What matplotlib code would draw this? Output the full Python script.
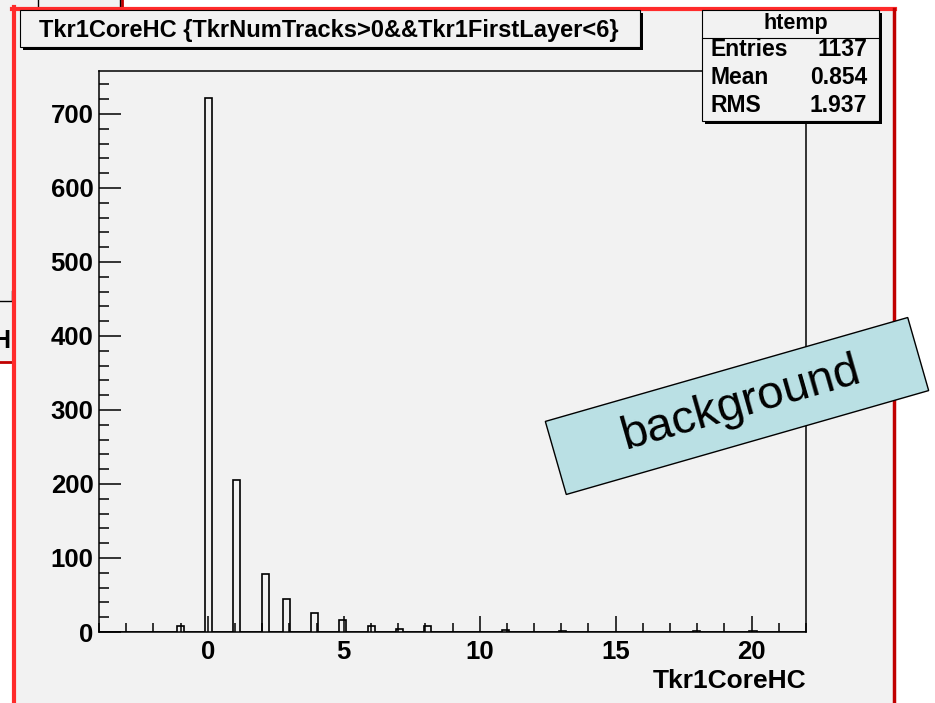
import numpy as np
import matplotlib
matplotlib.use('Agg')
import matplotlib.pyplot as plt
from matplotlib.patches import Rectangle
from matplotlib.ticker import MultipleLocator

plt.rcParams['font.family'] = ['Liberation Sans', 'DejaVu Sans']
plt.rcParams['font.weight'] = 'bold'

# htemp: Tkr1CoreHC values and their entries
core_hc = [-1, 0, 1, 2, 3, 4, 5, 6, 7, 8, 11, 13, 18, 20]
counts = [8, 722, 206, 79, 45, 25, 16, 8, 4, 8, 3, 1, 1, 1]
bin_edges = np.linspace(-4, 22, 101)

title = 'Tkr1CoreHC {TkrNumTracks>0&&Tkr1FirstLayer<6}'
hist_name = 'htemp'
stats_rows = [('Entries', '1137'), ('Mean', '0.854'), ('RMS', '1.937')]
x_title = 'Tkr1CoreHC'
note = 'background'

W, H = 935, 703
PAD = '#f2f2f2'

fig = plt.figure(figsize=(W / 100, H / 100), dpi=100, facecolor='white')

# canvas layer, pixel units, y down
bg = fig.add_axes([0, 0, 1, 1], zorder=0)
bg.set_xlim(0, W)
bg.set_ylim(H, 0)
bg.axis('off')

# the other canvas peeking out behind
bg.add_patch(Rectangle((0, 0), 122, 362, fc=PAD, ec='none', zorder=1))
bg.plot([122, 122], [0, 362], color='#c00000', lw=2, zorder=1)
bg.plot([0, 122], [362, 362], color='#c00000', lw=2, zorder=1)
bg.plot([38, 38], [0, 9], color='black', lw=1, zorder=1)
bg.plot([120, 120], [0, 9], color='black', lw=1, zorder=1)
bg.plot([0, 12, 12], [301, 301, 291], color='black', lw=1, zorder=1)
bg.text(30, 341, x_title, ha='right', va='center', fontsize=18, zorder=1)

# main canvas
bg.add_patch(Rectangle((12, 7), 884, 700, fc=PAD, ec='none', zorder=2))
bg.plot([14, 14], [7, H], color='#ff2b2b', lw=3, zorder=3)
bg.plot([12, 895], [9, 9], color='#ff2b2b', lw=3, zorder=3)
bg.plot([893.5, 893.5], [9, H], color='#c00000', lw=2.5, zorder=3)

# title pave
bg.add_patch(Rectangle((23, 13), 620, 37, fc='black', ec='none', zorder=4))
bg.add_patch(Rectangle((20, 10), 620, 37, fc=PAD, ec='black', lw=0.8, zorder=5))
bg.text(39, 30, title, fontsize=17, va='center', zorder=6)

# histogram frame
ax = fig.add_axes([99 / W, (H - 632) / H, 707 / W, 561 / H], zorder=1)
ax.set_facecolor('none')
ax.hist(core_hc, bins=bin_edges, weights=counts, histtype='step',
        color='black', lw=1.2)
ax.set_xlim(bin_edges[0], bin_edges[-1])
ax.set_ylim(0, max(counts) * 1.05)
for s in ax.spines.values():
    s.set_linewidth(1.1)
ax.xaxis.set_major_locator(MultipleLocator(5))
ax.xaxis.set_minor_locator(MultipleLocator(1))
ax.yaxis.set_major_locator(MultipleLocator(100))
ax.yaxis.set_minor_locator(MultipleLocator(20))
ax.tick_params(which='both', direction='in', top=False, right=False,
               labelsize=18.5, width=1.1)
ax.tick_params(axis='x', which='major', length=11.5, pad=6)
ax.tick_params(axis='x', which='minor', length=6.3)
ax.tick_params(axis='y', which='major', length=15.5, pad=4)
ax.tick_params(axis='y', which='minor', length=7)
ax.set_xlabel(x_title, fontsize=19, fontweight='bold')
ax.xaxis.set_label_coords(1.0, -0.066)
ax.xaxis.label.set_ha('right')

# overlay: stats box and the label
fg = fig.add_axes([0, 0, 1, 1], zorder=2)
fg.set_xlim(0, W)
fg.set_ylim(H, 0)
fg.axis('off')

fg.add_patch(Rectangle((705, 13), 177, 111, fc='black', ec='none'))
fg.add_patch(Rectangle((702, 10), 177, 111, fc=PAD, ec='black', lw=0.8))
fg.plot([702, 879], [38, 38], color='black', lw=0.8)
fg.text(796, 23, hist_name, ha='center', va='center', fontsize=15.5)
for i, (lab, val) in enumerate(stats_rows):
    yy = 50 + 28 * i
    fg.text(711, yy, lab, ha='left', va='center', fontsize=16.5)
    fg.text(867, yy, val, ha='right', va='center', fontsize=16.5)

fg.add_patch(Rectangle((737 - 188.5, 406 - 38), 377, 76, angle=-16,
                       rotation_point='center', fc='#bae0e4', ec='black', lw=1))
fg.text(741, 404, note, rotation=16, rotation_mode='anchor', ha='center',
        va='center', fontsize=34, fontweight='normal')

fig.savefig('out.png', dpi=100, facecolor='white')
